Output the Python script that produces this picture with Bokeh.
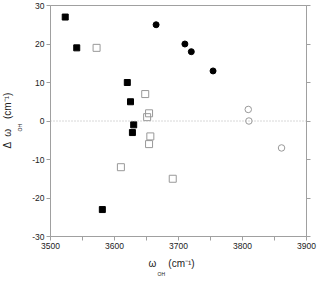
from bokeh.plotting import figure
from bokeh.models import Range1d, LinearAxis, Span, Title, FixedTicker, PrintfTickFormatter
from bokeh.embed import file_html
from bokeh.resources import INLINE

# data
sq_fill_x = [3523, 3541, 3620, 3625, 3630, 3628, 3581]
sq_fill_y = [27, 19, 10, 5, -1, -3, -23]
sq_open_x = [3572, 3648, 3654, 3651, 3656, 3654, 3610, 3691]
sq_open_y = [19, 7, 2, 1, -4, -6, -12, -15]
ci_fill_x = [3665, 3710, 3720, 3754]
ci_fill_y = [25, 20, 18, 13]
ci_open_x = [3809, 3810, 3861]
ci_open_y = [3, 0, -7]
x_ticks = [3500, 3600, 3700, 3800, 3900]
x_minor = [3550, 3650, 3750, 3850]
y_ticks = [-30, -20, -10, 0, 10, 20, 30]

AX = "#a0a0a0"
TXT = "#222222"
FONT = "Liberation Sans"
FS = "8.5px"

L, T, FW, FH, R = 50, 5, 256, 231, 13
p = figure(width=L + FW + R, height=282, output_backend="svg", toolbar_location=None,
           x_range=Range1d(3500, 3900), y_range=Range1d(-30, 30),
           min_border_left=L, min_border_right=R, min_border_top=T,
           min_border_bottom=282 - T - FH)
p.grid.visible = False
p.outline_line_color = AX
p.background_fill_color = "white"
p.border_fill_color = "white"

xa = p.xaxis[0]
xa.ticker = FixedTicker(ticks=x_ticks, minor_ticks=x_minor)
ya = p.yaxis[0]
ya.ticker = FixedTicker(ticks=y_ticks, minor_ticks=[])
ya.formatter = PrintfTickFormatter(format="%d")
for ax in (xa, ya):
    ax.axis_line_color = AX
    ax.major_tick_line_color = AX
    ax.minor_tick_line_color = AX
    ax.major_tick_out = 4
    ax.major_tick_in = 0
    ax.minor_tick_out = 4
    ax.minor_tick_in = 0
    ax.major_label_text_font = FONT
    ax.major_label_text_font_size = FS
    ax.major_label_text_color = TXT
    ax.major_label_standoff = 2

ra = LinearAxis(ticker=FixedTicker(ticks=y_ticks, minor_ticks=[]))
ra.axis_line_color = AX
ra.major_tick_line_color = AX
ra.major_tick_out = 4
ra.major_tick_in = 0
ra.major_label_text_font_size = "0px"
ra.major_label_text_color = None
p.add_layout(ra, "right")

p.add_layout(Span(location=0, dimension="width", line_color="#b0b0b0",
                  line_dash="1 2", line_width=1))

p.scatter(sq_fill_x, sq_fill_y, marker="square", size=6, fill_color="black", line_color="black")
p.scatter(sq_open_x, sq_open_y, marker="square", size=7, fill_color=None, line_color="#999999", line_width=1)
p.scatter(ci_fill_x, ci_fill_y, marker="circle", size=6, fill_color="black", line_color="black")
p.scatter(ci_open_x, ci_open_y, marker="circle", size=6.5, fill_color=None, line_color="#999999", line_width=1)

def title(text, side, size, offset, standoff):
    p.add_layout(Title(text=text, align="left", offset=offset, standoff=standoff,
                       text_font=FONT, text_font_size=size, text_font_style="normal",
                       text_color=TXT), side)

# x-axis title: ω_OH (cm⁻¹)
title("ω\u2002\u2002\u2009(cm⁻¹)", "below", "10px", 98, 8)
title("OH", "below", "5px", 107, -7)
# y-axis title: Δ ω_OH (cm⁻¹)
title("OH", "left", "5px", 105, 14)
title("Δ\u2002ω\u2002\u2002(cm⁻¹)", "left", "10px", 88, -10)

open("out.html", "w").write(file_html(p, INLINE))
